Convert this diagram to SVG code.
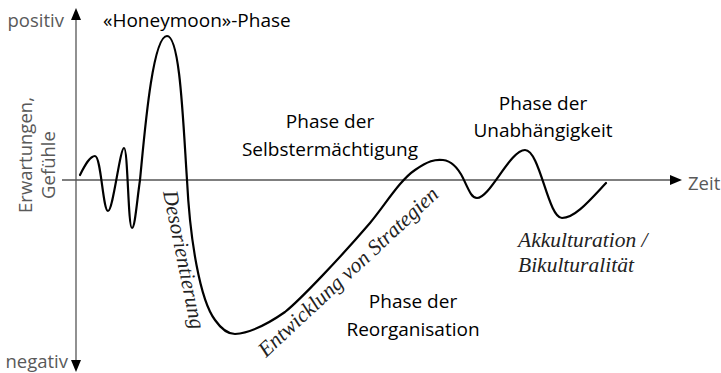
<svg xmlns="http://www.w3.org/2000/svg" width="721" height="373" viewBox="0 0 721 373">
<style>
.ax{stroke:#555;stroke-width:1.3;fill:none}
.ah{fill:#000}
.curve{stroke:#000;stroke-width:2.2;fill:none;stroke-linecap:round;stroke-linejoin:round}
.lab{font-family:"Open Sans","Liberation Sans",sans-serif;font-size:19px;fill:#000}
.axl{font-family:"Open Sans","Liberation Sans",sans-serif;font-size:18.5px;fill:#595959}
.it{font-family:"Liberation Serif","Times New Roman",serif;font-style:italic;font-size:21.5px;fill:#222}
</style>
<rect width="721" height="373" fill="#fff"/>
<g id="axes">
<line class="ax" x1="76" y1="18" x2="76" y2="362"/>
<polygon class="ah" points="76,8 71,20 81,20"/>
<polygon class="ah" points="76,372 71,360 81,360"/>
<line class="ax" x1="62" y1="180" x2="672" y2="180"/>
<polygon class="ah" points="682,180 670,175 670,185"/>
</g>
<g id="axis-labels">
<text class="axl" x="64" y="27" text-anchor="end">positiv</text>
<text class="axl" x="68" y="368" text-anchor="end">negativ</text>
<text class="axl" x="688" y="190">Zeit</text>
<text class="axl" transform="translate(32,155) rotate(-90)" text-anchor="middle">Erwartungen,</text>
<text class="axl" transform="translate(55,165) rotate(-90)" text-anchor="middle">Gefühle</text>
</g>
<g id="curve">
<path class="curve" d="M80,175 C85,165 90,156 95,156 C101,156 103,211 108,211 C113,211 120,148 124,148 C128,148 128,228 132,228 C135,228 137,200 140,180 C144,140 152,36 167,36 C180,36 183,120 187,180 C190,240 200,300 215,320 C222,330 228,334 235,334 C250,333 265,326 285,312 C300,300 340,258 370,223 C385,205 400,180 415,170 C428,161 435,159 443,160 C452,161 458,168 463,178 C470,193 472,198 477,198 C490,198 510,150 525,150 C540,150 548,218 562,218 C575,218 590,200 606,183"/>
</g>
<g id="honeymoon"><text class="lab" x="103" y="27">«Honeymoon»-Phase</text></g>
<g id="selbst">
<text class="lab" x="330" y="128" text-anchor="middle">Phase der</text>
<text class="lab" x="330" y="156" text-anchor="middle">Selbstermächtigung</text>
</g>
<g id="unabh">
<text class="lab" x="543" y="110" text-anchor="middle">Phase der</text>
<text class="lab" x="543" y="137" text-anchor="middle">Unabhängigkeit</text>
</g>
<g id="reorg">
<text class="lab" x="413" y="308" text-anchor="middle">Phase der</text>
<text class="lab" x="413" y="336" text-anchor="middle">Reorganisation</text>
</g>
<g id="desorientierung"><text class="it" transform="translate(163,192) rotate(78.5)">Desorientierung</text></g>
<g id="strategien"><text class="it" transform="translate(266,358) rotate(-43)">Entwicklung von Strategien</text></g>
<g id="akkulturation">
<text class="it" x="518" y="247">Akkulturation /</text>
<text class="it" x="518" y="272">Bikulturalität</text>
</g>
</svg>
